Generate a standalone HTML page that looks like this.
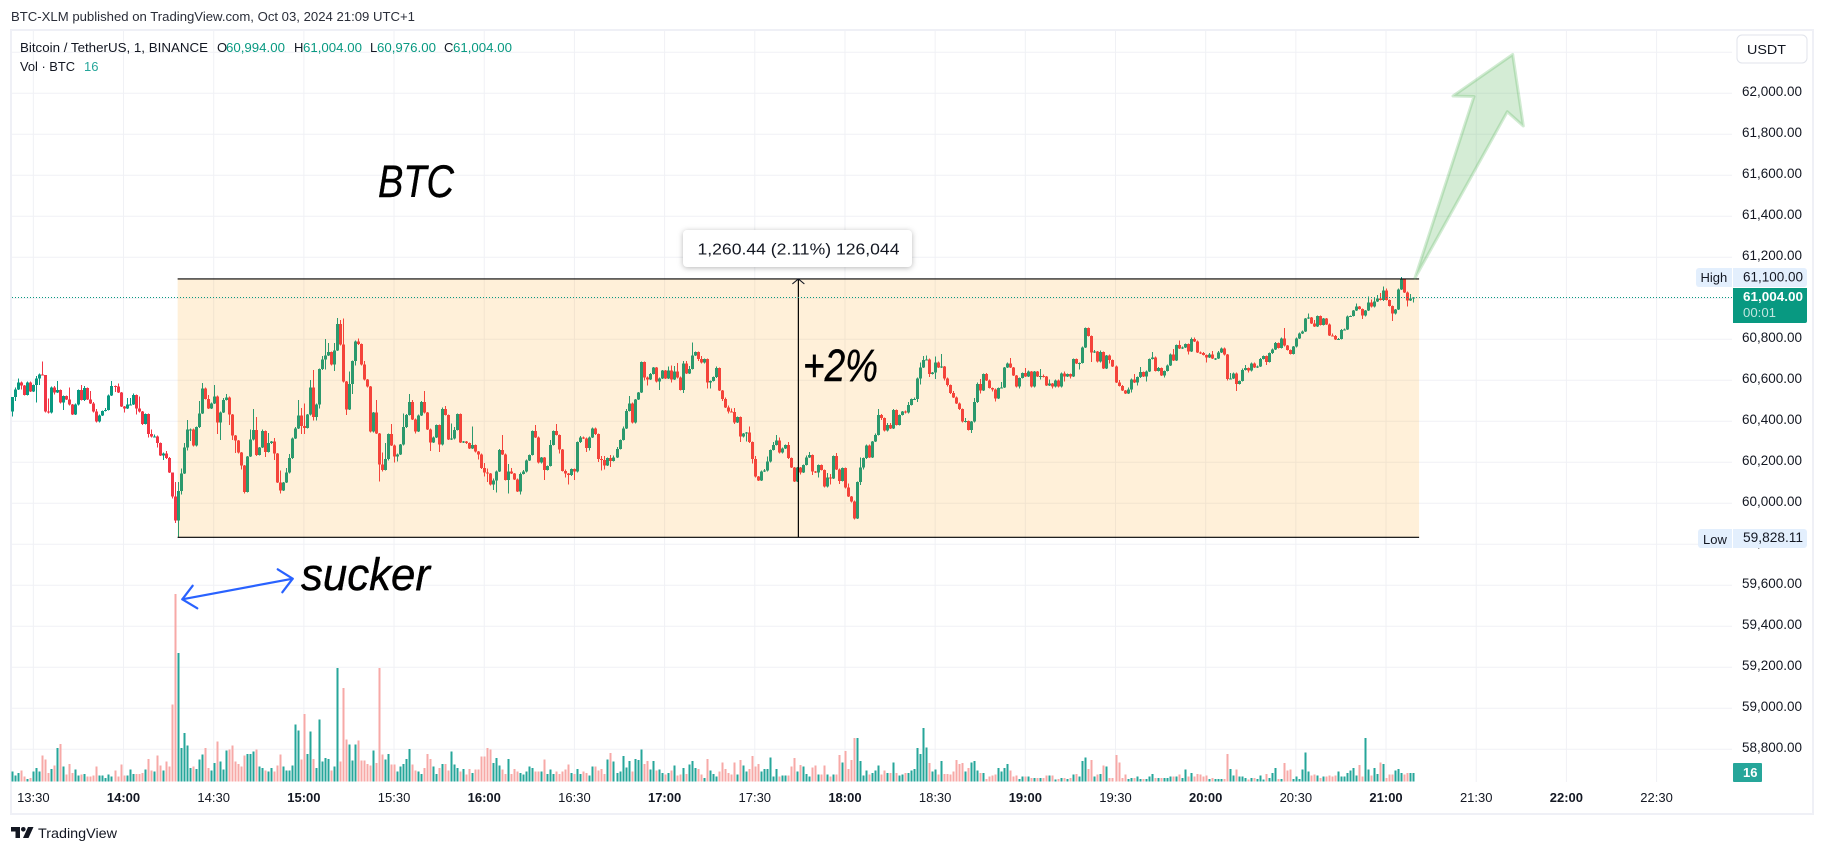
<!DOCTYPE html>
<html lang="en">
<head>
<meta charset="utf-8">
<title>BTC-XLM chart</title>
<style>
html,body{margin:0;padding:0;background:#fff;width:1824px;height:853px;overflow:hidden}
svg{display:block;font-family:"Liberation Sans",Arial,sans-serif}
</style>
</head>
<body>
<svg id="chart" xmlns="http://www.w3.org/2000/svg" width="1824" height="853" viewBox="0 0 1824 853">
  <rect x="0" y="0" width="1824" height="853" fill="#ffffff"/>
  <text x="11" y="21" font-size="13" fill="#2a2e39" textLength="404" lengthAdjust="spacingAndGlyphs">BTC-XLM published on TradingView.com, Oct 03, 2024 21:09 UTC+1</text>
  <rect x="11" y="30" width="1802" height="784" fill="none" stroke="#eff0f6" stroke-width="2"/>
  <g id="grid"></g>
  <g id="volumeLayer" shape-rendering="crispEdges"></g>
  <g id="candleLayer" shape-rendering="crispEdges"></g>
  <g id="rangeLayer"></g>
  <g id="lastLine"></g>

  <polygon points="1415,278 1474,96.5 1453,96 1512.7,54.5 1523.3,126 1507.3,111.7" fill="#4caf50" fill-opacity="0.24" stroke="#4caf50" stroke-opacity="0.25" stroke-width="3" stroke-linejoin="round"/>

  <g fill="none" stroke="#2962ff" stroke-width="2.2" stroke-linecap="round" stroke-linejoin="round">
    <line x1="182.3" y1="599.3" x2="292.7" y2="578.7"/>
    <polyline points="192.7,585.7 182.3,599.3 197.3,608.3"/>
    <polyline points="277.7,569.3 292.7,578.7 282.3,592.3"/>
  </g>

  <text x="378" y="197" font-size="45" font-style="italic" fill="#000" stroke="#000" stroke-width="0.4" textLength="76" lengthAdjust="spacingAndGlyphs">BTC</text>
  <text x="301" y="590" font-size="45" font-style="italic" fill="#000" stroke="#000" stroke-width="0.4" textLength="129" lengthAdjust="spacingAndGlyphs">sucker</text>
  <text x="803" y="381" font-size="45" font-style="italic" fill="#000" stroke="#000" stroke-width="0.4" textLength="75" lengthAdjust="spacingAndGlyphs">+2%</text>

  <g>
    <rect x="683" y="230" width="229" height="37" rx="4" fill="#fff" style="filter:drop-shadow(0 1px 3px rgba(0,0,0,.28))"/>
    <text x="697.5" y="254.5" font-size="15.5" fill="#131722" textLength="202" lengthAdjust="spacingAndGlyphs">1,260.44 (2.11%) 126,044</text>
  </g>

  <g>
    <text x="20" y="52" font-size="13" fill="#131722" textLength="188" lengthAdjust="spacingAndGlyphs">Bitcoin / TetherUS, 1, BINANCE</text>
    <text x="217" y="52" font-size="13" fill="#131722">O</text>
    <text x="226" y="52" font-size="13" fill="#089981" textLength="59" lengthAdjust="spacingAndGlyphs">60,994.00</text>
    <text x="294" y="52" font-size="13" fill="#131722">H</text>
    <text x="303" y="52" font-size="13" fill="#089981" textLength="59" lengthAdjust="spacingAndGlyphs">61,004.00</text>
    <text x="370" y="52" font-size="13" fill="#131722">L</text>
    <text x="377" y="52" font-size="13" fill="#089981" textLength="59" lengthAdjust="spacingAndGlyphs">60,976.00</text>
    <text x="444" y="52" font-size="13" fill="#131722">C</text>
    <text x="453" y="52" font-size="13" fill="#089981" textLength="59" lengthAdjust="spacingAndGlyphs">61,004.00</text>
    <text x="20" y="71" font-size="13" fill="#131722" textLength="55" lengthAdjust="spacingAndGlyphs">Vol · BTC</text>
    <text x="84" y="71" font-size="13" fill="#26a69a">16</text>
  </g>

  <g id="priceAxis"></g>
  <g id="timeAxis"></g>

  <g>
    <rect x="1737" y="35" width="70" height="28" rx="5" fill="#fff" stroke="#e0e3eb" stroke-width="1"/>
    <text x="1747" y="54" font-size="13" fill="#131722" textLength="39" lengthAdjust="spacingAndGlyphs">USDT</text>
  </g>

  <g>
    <path d="M1732 268H1699a3 3 0 0 0 -3 3V284a3 3 0 0 0 3 3H1732Z" fill="#e3effd"/>
    <path d="M1733 268H1804a3 3 0 0 1 3 3V284a3 3 0 0 1 -3 3H1733Z" fill="#e3effd"/>
    <text x="1700.5" y="282" font-size="13" fill="#131722">High</text>
    <text x="1743" y="281.5" font-size="13.5" fill="#131722" textLength="60" lengthAdjust="spacingAndGlyphs">61,100.00</text>
  </g>
  <g>
    <path d="M1732 529H1701a3 3 0 0 0 -3 3V545a3 3 0 0 0 3 3H1732Z" fill="#e3effd"/>
    <path d="M1733 529H1804a3 3 0 0 1 3 3V545a3 3 0 0 1 -3 3H1733Z" fill="#e3effd"/>
    <text x="1703" y="544" font-size="13" fill="#131722">Low</text>
    <text x="1743" y="542" font-size="13.5" fill="#131722" textLength="60" lengthAdjust="spacingAndGlyphs">59,828.11</text>
  </g>
  <g>
    <path d="M1733 288H1807V321a2 2 0 0 1 -2 2H1733Z" fill="#089981"/>
    <text x="1743" y="301" font-size="13" font-weight="bold" fill="#ffffff" textLength="60" lengthAdjust="spacingAndGlyphs">61,004.00</text>
    <text x="1743" y="317" font-size="13" fill="#ffffff" fill-opacity="0.75" textLength="33" lengthAdjust="spacingAndGlyphs">00:01</text>
  </g>
  <g>
    <rect x="1733" y="763" width="29" height="19" rx="1" fill="#26a69a"/>
    <text x="1743" y="777" font-size="13" font-weight="bold" fill="#ffffff">16</text>
  </g>

  <g>
    <polygon points="11,827 20,827 20,838 15.5,838 15.5,831.5 11,831.5" fill="#131722"/>
    <circle cx="23.3" cy="829.3" r="2.3" fill="#131722"/>
    <polygon points="28,827 33.5,827 28.5,838 23,838" fill="#131722"/>
    <text x="38" y="838" font-size="14" fill="#131722" textLength="79" lengthAdjust="spacingAndGlyphs">TradingView</text>
  </g>
</svg>
<script>
// ---------- chart data ----------
const firstOpen = 60447;
const closes = [
60519,60556,60590,60574,60528,60590,60545,60576,60610,60629,
60626,60447,60444,60566,60540,60553,60491,60524,60507,60481,
60433,60483,60553,60504,60563,60507,60488,60447,60398,60429,
60450,60455,60527,60572,60569,60541,60472,60462,60483,60483,
60528,60462,60447,60387,60436,60338,60325,60325,60293,60233,
60244,60220,60151,60033,59915,60059,60146,60273,60361,60361,
60281,60371,60439,60561,60509,60462,60488,60520,60393,60444,
60504,60517,60433,60330,60306,60247,60184,60055,60228,60312,
60358,60236,60272,60353,60250,60293,60302,60242,60101,60062,
60101,60151,60220,60317,60366,60429,60377,60367,60433,60566,
60420,60483,60654,60702,60722,60737,60676,60745,60875,60774,
60593,60457,60582,60693,60790,60776,60678,60603,60569,60350,
60442,60341,60189,60163,60215,60337,60283,60228,60239,60286,
60372,60431,60493,60410,60350,60429,60493,60442,60361,60296,
60322,60382,60286,60460,60431,60312,60315,60358,60436,60296,
60302,60293,60268,60285,
60252,60239,60171,60150,60145,60091,60112,60156,60260,60239,
60114,60156,60146,60117,60057,60143,60154,60210,60236,60353,
60322,60198,60224,60163,60182,60285,60353,60333,60263,60158,
60146,60137,60167,60154,60298,60320,60317,60270,60322,60366,
60337,60216,60211,60184,60220,60207,60224,60265,60309,60366,
60450,60488,60393,60507,60541,60689,60613,60605,60631,60663,
60593,60610,60647,60610,60647,60605,60644,60613,60553,60683,
60634,60655,60722,60738,60704,60686,60704,60589,60597,60615,
60659,60550,60509,60468,60447,60446,60395,60421,60325,60341,
60345,60298,60215,60130,60111,60156,60159,60203,60260,60285,
60307,60247,60268,60285,60220,60174,60106,60174,60150,60187,
60223,60236,60154,60150,60187,60163,60081,60127,60122,60231,
60166,60109,60171,60076,60033,60010,59927,60104,60174,60220,
60283,60223,60301,60333,60431,60415,60354,60382,60366,60455,
60382,60431,60447,60442,60480,60509,60509,60610,60663,60699,
60702,60631,60637,60686,60662,
60667,60610,60577,60537,60517,60488,60459,60398,60402,60358,
60398,60493,60582,60550,60631,60600,60563,60556,60511,60563,
60566,60663,60683,60663,60624,60569,60611,60636,60618,60642,
60569,60642,60618,60620,60618,60574,60585,60569,60600,60569,
60634,60618,60631,60618,60704,60683,60685,60761,60855,60816,
60735,60741,60691,60737,60657,60720,60698,60668,60589,60572,
60550,60535,60556,60605,60589,60615,60641,60618,60644,60704,
60712,60646,60659,60623,60646,60673,60727,60696,60771,60756,
60761,60776,60740,60802,60790,60735,60732,60724,60712,60727,
60706,60707,60735,60756,60725,60607,60610,60634,60582,60597,
60650,60659,60647,60683,60662,60668,60704,60719,60689,60732,
60751,60782,60758,60805,60769,60748,60728,60764,60805,60829,
60839,60902,60906,60878,60862,60914,60870,60902,60873,60818,
60816,60800,60802,60846,60849,60912,60914,60941,60959,60948,
60915,60940,60980,60959,60984,61000,60992,61037,60992,60963,
60925,60946,61044,61093,61029,60989,61000,61004];
const upperWicks = [
0,10,20,5,3,3,3,3,12,5,
63,0,65,3,5,44,3,3,3,58,
3,3,3,24,10,3,40,5,12,3,
3,10,3,24,3,16,3,3,30,30,
8,3,60,3,3,3,22,10,5,3,
5,12,5,0,72,45,24,20,45,5,
5,3,60,25,3,20,3,57,5,3,
10,15,3,3,3,3,3,3,3,48,
103,62,3,8,3,50,3,16,3,60,
3,20,20,5,5,75,37,110,3,36,
84,3,3,16,80,44,3,36,28,20,
127,3,60,3,3,15,3,15,3,3,
3,62,3,58,78,3,50,3,5,3,
66,5,40,10,3,3,5,55,3,5,
3,3,3,8,15,3,75,15,3,3,
3,3,3,90,
3,3,3,25,20,3,10,3,5,73,
3,35,15,3,3,8,8,3,3,3,
30,3,3,3,3,24,3,35,3,3,
8,3,3,3,3,8,5,5,5,3,
3,3,15,20,3,15,10,10,3,8,
10,35,3,3,3,3,3,5,5,3,
3,3,3,3,20,25,25,40,5,10,
10,15,62,3,3,15,3,3,3,3,
8,3,3,8,10,15,20,3,3,3,
3,30,3,15,3,3,8,25,3,15,
25,15,3,3,15,3,3,3,3,3,
10,15,3,3,3,3,3,20,15,3,
15,3,3,3,20,3,3,3,50,3,
3,3,3,8,30,5,3,10,10,5,
3,3,3,5,15,3,8,3,25,20,
20,5,3,30,5,
62,3,3,3,10,3,3,3,15,3,
3,20,8,25,3,5,3,3,3,3,
25,3,3,25,3,3,3,3,25,5,
3,3,3,35,8,3,20,3,3,3,
3,8,3,3,3,3,3,3,3,3,
3,8,3,8,3,3,5,3,3,12,
5,3,10,3,25,3,25,3,3,3,
25,3,5,3,3,3,3,25,3,22,
3,3,3,8,8,3,5,5,3,5,
15,3,8,3,5,3,25,3,3,3,
8,15,3,3,3,3,5,3,3,3,
3,5,3,3,50,3,3,3,3,3,
5,3,20,3,15,3,3,3,3,3,
10,5,5,5,3,3,3,3,15,3,
3,3,30,15,20,15,25,20,10,3,
3,3,3,10,3,3,20,3];
const lowerWicks = [
24,20,3,20,3,3,3,3,85,32,
3,3,5,5,10,3,5,35,3,3,
3,3,5,3,5,3,3,3,3,3,
3,3,3,3,25,3,3,18,3,3,
3,28,3,5,3,18,3,3,20,3,
22,5,3,10,10,81,15,3,15,57,
3,3,3,3,3,3,3,3,55,85,
3,3,50,20,60,3,20,8,3,3,
5,5,3,3,25,3,3,30,3,15,
3,3,5,3,3,3,40,30,3,5,
15,15,20,3,50,3,3,30,3,5,
3,26,3,50,20,3,5,3,3,5,
5,3,83,8,3,5,3,30,25,3,
3,5,3,3,10,3,3,3,3,40,
3,3,35,3,3,3,3,3,3,3,
3,3,3,3,3,25,3,20,40,3,
26,60,3,3,3,66,3,3,3,15,
3,3,3,3,3,3,3,50,3,3,
3,3,20,3,20,45,3,40,3,3,
3,20,12,3,3,15,50,20,3,30,
3,3,3,3,3,3,3,3,3,3,
15,30,3,3,3,40,3,3,3,15,
3,3,3,15,3,3,3,3,10,3,
3,30,30,3,3,3,10,3,10,3,
8,3,25,3,40,3,20,3,3,3,
3,3,3,3,3,3,3,3,3,3,
3,3,10,3,3,3,15,3,25,3,
3,3,30,3,3,15,3,3,3,5,
5,3,15,10,3,3,3,3,3,8,
3,3,3,3,3,3,3,3,3,3,
3,15,30,3,3,15,3,30,3,3,
10,8,3,3,3,3,3,3,3,15,
3,3,15,3,3,3,10,15,3,3,
3,3,3,3,3,8,3,3,3,3,
3,3,15,5,3,3,8,3,3,3,
25,3,10,3,3,30,3,3,3,45,
3,3,3,3,3,15,3,3,3,3,
3,3,15,3,15,3,3,25,3,3,
3,3,3,10,3,3,3,3,3,3,
3,15,3,3,3,3,3,25,3,3,
8,3,3,3,8,3,3,33,3,3,
3,8,3,3,3,3,3,15,3,3,
3,3,3,3,3,3,3,3,3,3,
3,3,3,3,3,3,3,3,3,3,
3,3,3,3,3,3,3,3,3,15,
3,3,3,3,3,3,5,3,3,35,
3,3,3,3,30,3,20];
const volumes = [
18,11,16,20,9,5,7,18,25,18,
47,40,16,23,29,61,68,27,13,32,
16,22,11,13,14,9,9,11,27,11,
11,7,13,9,20,9,31,11,11,22,
14,14,14,16,22,41,20,18,47,29,
20,36,27,139,338,232,61,88,65,25,
27,23,40,49,61,25,20,34,72,36,
22,56,58,65,36,32,27,47,50,50,
54,58,27,25,20,18,25,18,29,49,
27,20,20,29,103,92,40,122,50,90,
41,25,112,36,43,41,20,27,205,36,
169,76,67,38,67,74,38,38,32,29,
56,34,205,49,40,50,31,31,18,27,
32,41,59,31,20,18,14,25,50,41,
27,14,25,32,32,20,54,31,25,18,
23,13,23,16,22,22,45,45,61,58,
34,43,29,22,14,41,14,23,18,16,
13,18,27,25,18,18,18,40,14,22,
14,18,14,18,22,31,16,14,23,14,
18,16,11,27,27,20,23,14,40,52,
36,16,18,46,26,37,18,41,39,58,
32,37,22,37,20,22,16,13,16,20,
29,11,13,25,14,31,37,25,23,13,
7,41,20,14,9,18,35,23,16,13,
35,13,39,29,18,23,46,27,32,18,
23,23,44,9,23,9,11,11,11,27,
43,18,30,27,14,9,26,29,13,13,
29,13,9,13,13,48,35,55,23,39,
79,79,37,11,20,13,16,20,29,13,
20,16,16,35,16,11,13,16,16,20,
23,61,50,97,62,34,18,22,13,37,
14,14,13,18,39,32,34,18,25,35,
37,20,16,16,5,9,11,13,25,18,
25,32,20,9,11,5,9,9,9,7,
7,7,7,7,11,11,11,4,5,7,
7,5,7,13,14,9,37,44,23,39,
9,13,14,29,27,7,7,48,35,7,
13,5,7,7,9,5,5,5,9,14,
7,7,7,7,7,9,9,9,13,7,
22,9,16,9,14,13,9,11,5,7,
5,5,5,5,50,23,11,22,9,9,
7,4,7,7,5,11,4,14,7,16,
25,5,5,34,20,22,5,9,5,22,
53,18,11,13,11,7,9,9,11,9,
11,18,9,9,16,20,25,11,30,9,
79,22,11,25,14,35,32,7,13,13,
20,23,16,13,16,16,16];
const priceTicks = [62200,62000,61800,61600,61400,61200,61000,60800,60600,60400,60200,60000,59800,59600,59400,59200,59000,58800];
const timeTicks = ["13:30","14:00","14:30","15:00","15:30","16:00","16:30","17:00","17:30","18:00","18:30","19:00","19:30","20:00","20:30","21:00","21:30","22:00","22:30"];
const firstBarTime = "13:23";
const rangeHigh = 61094.44;
const rangeLow = 59834;
const rangeStartBar = 55;
const rangeEndBar = 468;
const rangeMidBar = 261.5;
const lastPrice = 61004;

// ---------- axis functions ----------
const SVG_NS = 'http://www.w3.org/2000/svg';
function xOf(i){ return 12.3 + 3.006 * i; }
function yOf(p){ return 503.3 - (p - 60000) * 0.205; }
function yVol(v){ return 781.7 - v * 0.5556; }
function minutes(t){ const a = t.split(':'); return (+a[0]) * 60 + (+a[1]); }
function xOfTime(t){ return xOf(minutes(t) - minutes(firstBarTime)); }
function fmt(p){ return p.toLocaleString('en-US',{minimumFractionDigits:2,maximumFractionDigits:2}); }
function make(tag, parent){ const el = document.createElementNS(SVG_NS, tag); parent.appendChild(el); return el; }
function attrs(el, o){ for (const k in o) el.setAttribute(k, o[k]); }

// ---------- grid ----------
const grid = document.getElementById('grid');
priceTicks.forEach(function(p){
  const el = make('line', grid);
  
  
  attrs(el, {x1:12, x2:1732, y1:yOf(p), y2:yOf(p), stroke:'#f0f1f5', 'stroke-width':1});
});
timeTicks.forEach(function(t){
  const el = make('line', grid);
  
  
  attrs(el, {x1:xOfTime(t), x2:xOfTime(t), y1:31, y2:782, stroke:'#f0f1f5', 'stroke-width':1});
});

// ---------- bars ----------
const volumeLayer = document.getElementById('volumeLayer');
const candleLayer = document.getElementById('candleLayer');
closes.forEach(function(c, i){
  const o = i === 0 ? firstOpen : closes[i - 1];
  const up = c >= o;
  const top = Math.max(o, c), bot = Math.min(o, c);
  const hi = top + (upperWicks[i] || 0), lo = bot - (lowerWicks[i] || 0);
  const x = xOf(i);
  const px = Math.round(x);
  const color = up ? '#089981' : '#f23645';

  const vol = make('rect', volumeLayer);
  
  
  attrs(vol, {x:px - 0.5, width:2, y:yVol(volumes[i]), height:781.7 - yVol(volumes[i]), fill: up ? '#26a69a' : '#f7a9a7'});

  const wick = make('rect', candleLayer);
  
  
  attrs(wick, {x:px, width:1, y:yOf(hi), height:Math.max(1, yOf(lo) - yOf(hi)), fill:color});

  const body = make('rect', candleLayer);
  
  
  attrs(body, {x:px - 1, width:3, y:yOf(top), height:Math.max(1, yOf(bot) - yOf(top)), fill:color});
});

// ---------- price range tool ----------
const rangeLayer = document.getElementById('rangeLayer');
const rx1 = xOf(rangeStartBar), rx2 = xOf(rangeEndBar), ry1 = yOf(rangeHigh), ry2 = yOf(rangeLow);
const rFill = make('rect', rangeLayer);


attrs(rFill, {x:rx1, y:ry1, width:rx2 - rx1, height:ry2 - ry1, fill:'#ff9800', 'fill-opacity':0.15});
const rTop = make('line', rangeLayer);


attrs(rTop, {x1:rx1, x2:rx2, y1:ry1, y2:ry1, stroke:'#000', 'stroke-width':1.2});
const rBot = make('line', rangeLayer);


attrs(rBot, {x1:rx1, x2:rx2, y1:ry2, y2:ry2, stroke:'#000', 'stroke-width':1.2});
const mx = xOf(rangeMidBar);
const rMid = make('line', rangeLayer);


attrs(rMid, {x1:mx, x2:mx, y1:ry1, y2:ry2, stroke:'#000', 'stroke-width':1.2});
const rHead = make('polyline', rangeLayer);


attrs(rHead, {points:(mx - 6) + ',' + (ry1 + 5) + ' ' + mx + ',' + ry1 + ' ' + (mx + 6) + ',' + (ry1 + 5), fill:'none', stroke:'#131722', 'stroke-width':1});

// ---------- last price line ----------
const lastLineGroup = document.getElementById('lastLine');
const lastLine = make('line', lastLineGroup);


attrs(lastLine, {x1:12, x2:1732, y1:yOf(lastPrice), y2:yOf(lastPrice), stroke:'#089981', 'stroke-width':1, 'stroke-dasharray':'1 2'});

// ---------- axis labels ----------
const priceAxis = document.getElementById('priceAxis');
priceTicks.forEach(function(p){
  const el = make('text', priceAxis);
  
  
  attrs(el, {x:1742, y:yOf(p) + 2.7, 'font-size':13.5, fill:'#131722', textLength:60, lengthAdjust:'spacingAndGlyphs'});
  el.textContent = fmt(p);
});
const timeAxis = document.getElementById('timeAxis');
timeTicks.forEach(function(t){
  const el = make('text', timeAxis);
  
  
  const hour = /:00$/.test(t);
  attrs(el, {x:xOfTime(t), y:802, 'font-size':13, fill:'#131722', 'text-anchor':'middle', 'font-weight':hour ? 'bold' : 'normal'});
  el.textContent = t;
});
</script>
</body>
</html>
